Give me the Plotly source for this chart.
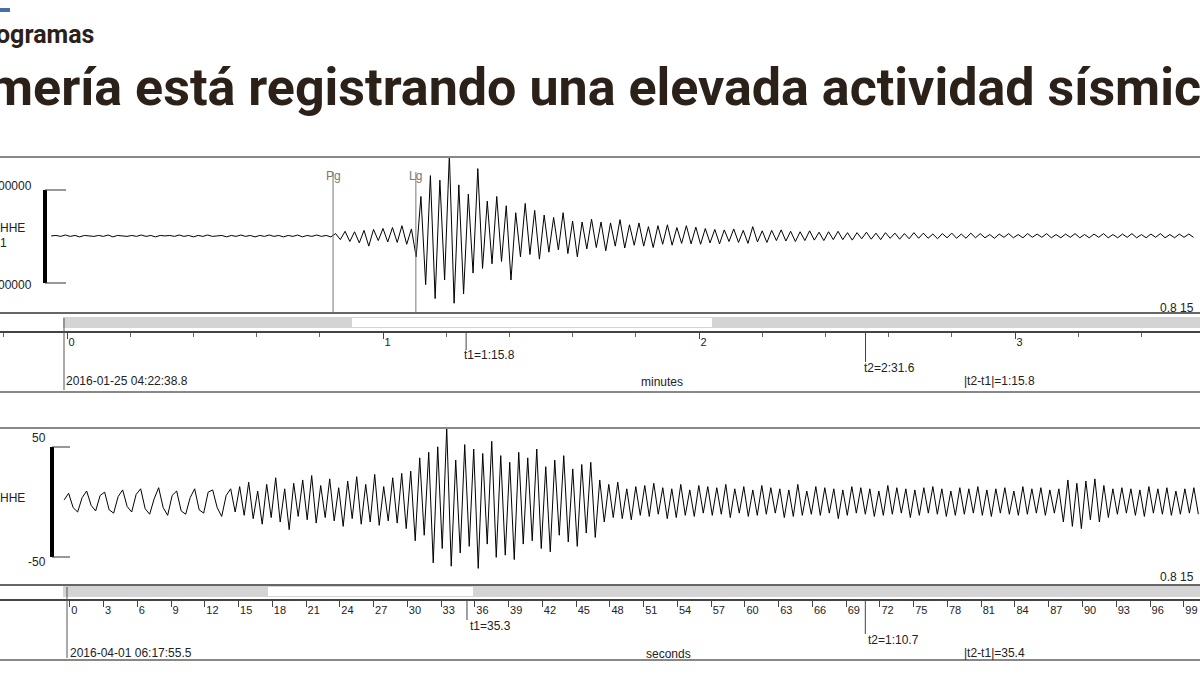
import numpy as np
import plotly.graph_objects as go

W, H = 1200, 675
# ---- data ----
top_t0, top_dt = -0.05, 0.015   # minutes
top_vals = [
0.00,0.01,-0.01,0.02,-0.01,0.01,-0.02,0.01,0.00,-0.01,
0.01,-0.01,0.02,-0.02,0.01,0.00,-0.01,0.01,-0.01,0.02,
-0.01,0.01,-0.02,0.01,0.00,0.01,-0.01,0.02,-0.01,0.01,
-0.02,0.01,-0.01,0.02,-0.01,0.00,0.01,-0.02,0.01,-0.01,
0.02,-0.01,0.01,-0.02,0.01,-0.01,0.02,-0.01,0.01,-0.02,
0.01,-0.01,0.02,-0.02,0.01,-0.01,0.02,-0.01,0.01,-0.02,
0.05,-0.08,0.10,-0.12,0.09,-0.15,0.12,-0.22,0.14,-0.10,
0.16,-0.13,0.18,-0.14,0.22,-0.18,0.15,
-0.45,0.85,-1.05,1.30,-1.35,1.20,-0.95,1.75,
-1.45,1.10,-1.25,0.90,-0.80,1.45,-0.70,0.75,-0.60,0.85,
-0.55,0.65,-0.95,0.50,-0.45,0.70,-0.40,0.55,-0.50,
0.45,-0.35,0.40,-0.30,0.50,-0.38,0.32,-0.45,0.30,-0.28,
0.36,-0.25,0.30,-0.32,0.28,-0.22,0.35,-0.26,0.24,-0.20,
0.28,-0.22,0.20,-0.25,0.22,-0.18,0.24,-0.20,0.18,-0.16,
0.22,-0.17,0.19,
-0.18,0.16,-0.15,0.14,-0.17,0.13,-0.12,0.15,-0.14,0.12,
-0.16,0.20,-0.13,0.11,-0.14,0.12,-0.10,0.13,-0.11,0.10,
-0.12,0.09,-0.10,0.11,-0.09,0.08,-0.10,0.09,-0.08,0.10,
-0.08,0.07,-0.09,
0.07,-0.06,0.08,-0.07,0.06,-0.08,0.07,-0.05,0.06,-0.07,
0.05,-0.06,0.07,-0.05,0.06,-0.05,0.04,-0.06,0.05,-0.04,
0.06,-0.05,0.04,-0.05,0.06,-0.04,0.05,-0.04,0.03,-0.05,
0.04,-0.03,0.05,-0.04,0.03,-0.04,0.05,-0.03,0.04,-0.03,
0.05,-0.04,0.03,-0.04,0.04,-0.03,0.05,-0.04,0.03,-0.04,
0.04,-0.03,0.05,-0.04,0.03,-0.04,0.04,-0.03,0.05,-0.04,
0.03,-0.04,0.04,-0.03,0.05,-0.04,0.03,-0.04,0.04,-0.03,
0.04,-0.03]

bot_t0, bot_dt = -0.5, 0.4   # seconds
bot_vals = [
2,8,-5,-9,4,10,-3,-8,6,9,
-7,-10,5,11,-4,-9,7,12,-6,-11,
3,13,-5,-12,6,10,-8,-11,4,12,
-7,-10,9,11,-5,-13,6,12,-9,
14,-12,18,-15,10,-20,16,-14,22,-18,
12,-25,17,-13,20,-16,24,-19,15,-14,
21,-17,13,-22,19,-15,23,-20,16,-18,
25,-21,14,-17,22,-19,26,-24,
28,-35,40,-30,45,-55,50,-42,67,-58,
38,-46,52,-40,48,-60,44,-38,55,-50,
42,-48,36,-52,45,
-38,40,-35,48,-42,32,-45,38,-30,42,
-36,30,-40,34,-28,36,-32,
20,-18,16,-14,18,-15,12,-16,14,-12,
15,-13,17,-11,13,-15,12,-14,16,-12,
11,-13,15,-10,14,-12,13,-11,16,-14,
12,-10,14,-13,11,-12,15,-11,13,-10,
12,-14,11,-13,16,-12,10,-11,14,-12,
13,-10,12,-15,11,-12,14,-10,13,-11,
12,-13,10,-12,15,-11,13,-10,12,-14,
11,-12,13,-10,14,-11,12,-13,10,-12,
13,-11,12,-10,14,-12,11,-13,12,-10,
13,-11,10,-12,14,-11,12,-10,13,-12,
11,-10,12,
-18,20,-22,17,-24,19,-16,21,-18,15,-14,
12,-11,13,-10,12,-12,11,-13,14,-10,12,-11,13,-12,10,-11,12,-10,13,-11]

top_ticks = [0, 1, 2, 3]
bot_ticks = list(range(0, 100, 3))
picks = [("Pg", 0.842), ("Lg", 1.104)]

top_t = top_t0 + top_dt * np.arange(len(top_vals))
bot_t = bot_t0 + bot_dt * np.arange(len(bot_vals))

def py(p):
    return 1 - p / H
def pxx(p):
    return p / W

top_x0, top_ppu = 67, 316.0
bot_x0, bot_ppu = 70, 11.29
top_range = [(0 - top_x0) / top_ppu, (W - top_x0) / top_ppu]
bot_range = [(0 - bot_x0) / bot_ppu, (W + 4 - bot_x0) / bot_ppu]

fig = go.Figure()
fig.add_trace(go.Scatter(x=top_t, y=top_vals, mode="lines", line=dict(color="black", width=1),
                         xaxis="x", yaxis="y", hoverinfo="skip"))
fig.add_trace(go.Scatter(x=bot_t, y=bot_vals, mode="lines", line=dict(color="black", width=1),
                         xaxis="x3", yaxis="y3", hoverinfo="skip"))

tickfont = dict(family="Liberation Sans Narrow, Liberation Sans", size=11, color="#222")
common_hidden = dict(showgrid=False, zeroline=False, showticklabels=False, ticks="")
fig.update_layout(
    width=W, height=H, margin=dict(l=0, r=0, t=0, b=0), showlegend=False,
    paper_bgcolor="white", plot_bgcolor="rgba(0,0,0,0)",
    xaxis=dict(domain=[0, 1], range=top_range, anchor="y", **common_hidden),
    yaxis=dict(domain=[py(313), py(157)], range=[-1.66, 1.70], **common_hidden),
    xaxis2=dict(domain=[0, 1], range=top_range, anchor="y2", showgrid=False, zeroline=False,
                showline=True, linecolor="#444", linewidth=2, ticks="outside", ticklen=6,
                tickcolor="#444", tickvals=top_ticks, ticktext=[str(v) for v in top_ticks],
                minor=dict(dtick=0.2, ticks="outside", ticklen=4, tickcolor="#666"),
                ticklabelposition="outside right", tickfont=tickfont),
    yaxis2=dict(domain=[py(331), py(330)], range=[0, 1], **common_hidden),
    xaxis3=dict(domain=[0, 1], range=bot_range, anchor="y3", **common_hidden),
    yaxis3=dict(domain=[py(585), py(428)], range=[-75, 67], **common_hidden),
    xaxis4=dict(domain=[0, 1], range=bot_range, anchor="y4", showgrid=False, zeroline=False,
                showline=True, linecolor="#444", linewidth=2, ticks="outside", ticklen=6,
                tickcolor="#444", tickvals=bot_ticks, ticktext=[str(v) for v in bot_ticks],
                ticklabelposition="outside right", tickfont=tickfont),
    yaxis4=dict(domain=[py(599), py(598)], range=[0, 1], **common_hidden),
)

shapes = []
def rect(x0, y0, x1, y1, fill, line=None, lw=0):
    shapes.append(dict(type="rect", xref="paper", yref="paper", x0=pxx(x0), x1=pxx(x1),
                       y0=py(y1), y1=py(y0), fillcolor=fill,
                       line=dict(color=line or fill, width=lw), layer="below"))
def hline(x0, x1, y, color, w):
    shapes.append(dict(type="line", xref="paper", yref="paper", x0=pxx(x0), x1=pxx(x1),
                       y0=py(y), y1=py(y), line=dict(color=color, width=w)))
def vline(x, y0, y1, color, w):
    shapes.append(dict(type="line", xref="paper", yref="paper", x0=pxx(x), x1=pxx(x),
                       y0=py(y0), y1=py(y1), line=dict(color=color, width=w)))

rect(0, 8, 10, 12, "#4a6fa5")
for (a, b, sc0, sc1, w0, w1, axy, bot) in [(157, 313, 317, 328, 352, 712, 330, 392),
                                          (428, 585, 586, 597, 268, 473, 598, 660)]:
    hline(0, W, a, "#888", 2)
    hline(0, W, b, "#666", 2)
    rect(63, sc0, W, sc1, "#d4d4d4")
    rect(w0, sc0 + 1, w1, sc1 - 1, "white")
    hline(0, W, bot, "#888", 2)
vline(64, 318, 390, "#555", 1)
vline(67, 587, 658, "#555", 1)
vline(45, 190, 283, "black", 4)
hline(45, 66, 190, "#333", 1); hline(45, 66, 283, "#333", 1)
vline(52, 447, 557, "black", 4)
hline(52, 70, 447, "#333", 1); hline(52, 70, 557, "#333", 1)
fig.update_layout(shapes=shapes)

for name, t in picks:
    fig.add_shape(type="line", xref="x", yref="paper", x0=t, x1=t, y0=py(313), y1=py(172),
                  line=dict(color="#777", width=1))
    fig.add_annotation(x=t, xref="x", y=py(167), yref="paper", text=name, showarrow=False,
                       xanchor="center", font=dict(family="Liberation Sans", size=12, color="#777"))
for (t, xr, y0, y1) in [(1.263, "x2", 331, 350), (2.527, "x2", 331, 362),
                        (35.3, "x4", 599, 620), (70.7, "x4", 599, 634)]:
    fig.add_shape(type="line", xref=xr, yref="paper", x0=t, x1=t, y0=py(y0), y1=py(y1),
                  line=dict(color="#444", width=1))

def txt(x, y, s, size=12, color="#222", anchor="left", family="Liberation Sans Narrow, Liberation Sans", bold=False):
    fig.add_annotation(x=pxx(x), y=py(y), xref="paper", yref="paper", text=("<b>%s</b>" % s) if bold else s,
                       showarrow=False, xanchor=anchor, yanchor="middle",
                       font=dict(family=family, size=size, color=color))

txt(-6, 34, "ogramas", size=25, color="#2b2118", family="Roboto", bold=True)
txt(-14, 88, "mería está registrando una elevada actividad sísmica", size=52, color="#2b2118",
    family="Roboto", bold=True)
txt(-4, 186, "00000", 12); txt(-4, 285, "00000", 12)
txt(-2, 228, "HHE", 12); txt(-2, 243, "1", 12)
txt(1158, 308, "0.8 15", 12)
txt(462, 355, "t1=1:15.8", 12)
txt(862, 368, "t2=2:31.6", 12)
txt(64, 381, "2016-01-25 04:22:38.8", 12)
txt(662, 382, "minutes", 12, anchor="center")
txt(962, 381, "|t2-t1|=1:15.8", 12)
txt(48, 438, "50", 12, anchor="right"); txt(48, 562, "-50", 12, anchor="right")
txt(-2, 498, "HHE", 12)
txt(1158, 577, "0.8 15", 12)
txt(468, 626, "t1=35.3", 12)
txt(866, 640, "t2=1:10.7", 12)
txt(68, 653, "2016-04-01 06:17:55.5", 12)
txt(668, 654, "seconds", 12, anchor="center")
txt(962, 653, "|t2-t1|=35.4", 12)

fig.write_html("out.html", config={"displayModeBar": False},
               post_script="document.body.style.margin='0';document.body.style.overflow='hidden';")
